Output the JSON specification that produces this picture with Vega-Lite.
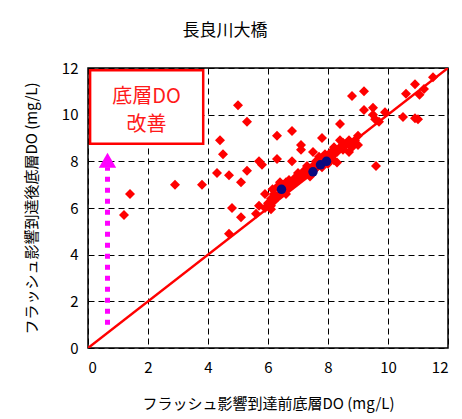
{
  "$schema": "https://vega.github.io/schema/vega-lite/v6.json",
  "width": 360,
  "height": 280,
  "autosize": "none",
  "padding": {"left": 88, "top": 68, "right": 14, "bottom": 71},
  "config": {
    "font": "Noto Sans CJK JP",
    "view": {"stroke": "black", "strokeWidth": 1.5},
    "axis": {
      "grid": true,
      "gridColor": "black",
      "gridDash": [6, 4],
      "gridWidth": 1,
      "gridOpacity": 1,
      "domain": false,
      "ticks": false,
      "labelFont": "Noto Sans CJK JP",
      "labelFontSize": 15,
      "labelColor": "black",
      "titleFont": "Noto Sans CJK JP",
      "titleFontSize": 15,
      "titleFontWeight": "normal",
      "titleColor": "black"
    }
  },
  "title": {
    "text": "長良川大橋",
    "fontSize": 17,
    "fontWeight": "normal",
    "font": "Noto Sans CJK JP",
    "color": "black",
    "anchor": "middle",
    "dx": -43,
    "offset": 21
  },
  "datasets": {
    "red": [
      {"x": 1.2, "y": 5.7}, {"x": 1.4, "y": 6.6}, {"x": 2.9, "y": 7.0}, {"x": 3.8, "y": 7.0},
      {"x": 4.3, "y": 7.5}, {"x": 4.7, "y": 7.4}, {"x": 5.1, "y": 7.1}, {"x": 5.3, "y": 7.6},
      {"x": 5.7, "y": 8.0}, {"x": 5.8, "y": 7.85}, {"x": 4.4, "y": 8.9}, {"x": 4.5, "y": 8.3},
      {"x": 5.0, "y": 10.4}, {"x": 5.3, "y": 9.7}, {"x": 5.9, "y": 6.6}, {"x": 4.8, "y": 6.0},
      {"x": 5.1, "y": 5.6}, {"x": 5.6, "y": 5.75}, {"x": 5.7, "y": 6.1}, {"x": 4.7, "y": 4.9},
      {"x": 6.3, "y": 9.1}, {"x": 6.8, "y": 9.3}, {"x": 6.3, "y": 8.1}, {"x": 6.8, "y": 8.0},
      {"x": 7.1, "y": 8.7}, {"x": 7.1, "y": 8.5}, {"x": 7.5, "y": 8.4}, {"x": 7.8, "y": 9.0},
      {"x": 8.4, "y": 9.6}, {"x": 8.4, "y": 8.9}, {"x": 8.8, "y": 10.8}, {"x": 9.2, "y": 11.0},
      {"x": 9.2, "y": 10.2}, {"x": 9.5, "y": 10.3}, {"x": 9.5, "y": 10.0}, {"x": 9.57, "y": 9.8},
      {"x": 9.7, "y": 9.7}, {"x": 9.9, "y": 10.1}, {"x": 10.5, "y": 9.9}, {"x": 10.9, "y": 9.85},
      {"x": 11.0, "y": 9.8}, {"x": 10.6, "y": 10.9}, {"x": 10.9, "y": 11.3}, {"x": 11.2, "y": 11.1},
      {"x": 11.05, "y": 10.85}, {"x": 11.5, "y": 11.6}, {"x": 9.6, "y": 7.8}, {"x": 9.0, "y": 9.1},
      {"x": 8.9, "y": 8.9}, {"x": 8.8, "y": 8.6}, {"x": 9.0, "y": 8.7}, {"x": 8.7, "y": 8.4},
      {"x": 5.9, "y": 6.0}, {"x": 6.0, "y": 6.2}, {"x": 6.1, "y": 6.1}, {"x": 6.1, "y": 6.4},
      {"x": 6.2, "y": 6.3}, {"x": 6.2, "y": 6.6}, {"x": 6.3, "y": 6.5}, {"x": 6.3, "y": 6.9},
      {"x": 6.4, "y": 6.6}, {"x": 6.5, "y": 6.7}, {"x": 6.5, "y": 7.0}, {"x": 6.6, "y": 6.8},
      {"x": 6.6, "y": 7.1}, {"x": 6.7, "y": 6.9}, {"x": 6.7, "y": 7.2}, {"x": 6.8, "y": 7.0},
      {"x": 6.9, "y": 7.1}, {"x": 6.9, "y": 7.3}, {"x": 7.0, "y": 7.2}, {"x": 7.0, "y": 7.5},
      {"x": 7.1, "y": 7.3}, {"x": 7.2, "y": 7.4}, {"x": 7.2, "y": 7.6}, {"x": 7.3, "y": 7.5},
      {"x": 7.3, "y": 7.8}, {"x": 7.4, "y": 7.6}, {"x": 7.5, "y": 7.8}, {"x": 7.6, "y": 7.7},
      {"x": 7.6, "y": 8.0}, {"x": 7.7, "y": 7.9}, {"x": 7.7, "y": 8.2}, {"x": 7.8, "y": 8.0},
      {"x": 7.9, "y": 8.1}, {"x": 7.9, "y": 8.3}, {"x": 8.0, "y": 8.2}, {"x": 8.0, "y": 7.9},
      {"x": 8.1, "y": 8.4}, {"x": 8.1, "y": 8.1}, {"x": 8.2, "y": 8.3}, {"x": 8.2, "y": 8.6},
      {"x": 8.3, "y": 8.4}, {"x": 8.3, "y": 7.95}, {"x": 8.4, "y": 8.6}, {"x": 8.5, "y": 8.5},
      {"x": 8.5, "y": 8.8}, {"x": 8.6, "y": 8.7}, {"x": 8.7, "y": 8.9}, {"x": 8.8, "y": 8.75},
      {"x": 6.1, "y": 5.95}, {"x": 6.6, "y": 6.6}, {"x": 6.15, "y": 6.8}, {"x": 6.4, "y": 7.1},
      {"x": 7.4, "y": 7.35}, {"x": 7.8, "y": 7.75}, {"x": 8.2, "y": 8.05}
    ],
    "blue": [
      {"x": 6.45, "y": 6.8}, {"x": 7.5, "y": 7.55}, {"x": 7.75, "y": 7.85}, {"x": 7.95, "y": 8.0}
    ],
    "diag": [{"x": 0, "y": 0}, {"x": 12, "y": 12}],
    "arrow": [{"x": 0.65, "y": 1.0, "y2": 7.75}],
    "head": [{"x": 0.65, "y": 8.05}],
    "box": [{"x": 0.07, "x2": 3.84, "y": 8.75, "y2": 11.9}],
    "label": [{"x": 1.95, "y": 10.77, "t": "底層DO"}, {"x": 1.95, "y": 9.57, "t": "改善"}]
  },
  "layer": [
    {
      "data": {"name": "diag"},
      "mark": {"type": "line", "color": "#FF0000", "strokeWidth": 2.5, "clip": true},
      "encoding": {
        "x": {"field": "x", "type": "quantitative", "scale": {"domain": [0, 12], "nice": false}, "axis": {"values": [0, 2, 4, 6, 8, 10, 12], "title": "フラッシュ影響到達前底層DO (mg/L)", "labelPadding": 12, "titlePadding": 21}},
        "y": {"field": "y", "type": "quantitative", "scale": {"domain": [0, 12], "nice": false}, "axis": {"values": [0, 2, 4, 6, 8, 10, 12], "title": "フラッシュ影響到達後底層DO (mg/L)", "labelPadding": 10, "titlePadding": 22}}
      }
    },
    {
      "data": {"name": "red"},
      "mark": {"type": "point", "shape": "diamond", "filled": true, "color": "#FF0000", "size": 100, "opacity": 1},
      "encoding": {
        "x": {"field": "x", "type": "quantitative"},
        "y": {"field": "y", "type": "quantitative"}
      }
    },
    {
      "data": {"name": "blue"},
      "mark": {"type": "circle", "color": "#0A0A80", "size": 90, "opacity": 1},
      "encoding": {
        "x": {"field": "x", "type": "quantitative"},
        "y": {"field": "y", "type": "quantitative"}
      }
    },
    {
      "data": {"name": "arrow"},
      "mark": {"type": "rule", "color": "#FF00FF", "strokeWidth": 5, "strokeDash": [5, 6], "strokeCap": "butt"},
      "encoding": {
        "x": {"field": "x", "type": "quantitative"},
        "y": {"field": "y", "type": "quantitative"},
        "y2": {"field": "y2"}
      }
    },
    {
      "data": {"name": "head"},
      "mark": {"type": "point", "shape": "triangle-up", "filled": true, "color": "#FF00FF", "size": 300, "opacity": 1},
      "encoding": {
        "x": {"field": "x", "type": "quantitative"},
        "y": {"field": "y", "type": "quantitative"}
      }
    },
    {
      "data": {"name": "box"},
      "mark": {"type": "rect", "fill": "white", "stroke": "#FF0000", "strokeWidth": 2.5},
      "encoding": {
        "x": {"field": "x", "type": "quantitative"},
        "x2": {"field": "x2"},
        "y": {"field": "y", "type": "quantitative"},
        "y2": {"field": "y2"}
      }
    },
    {
      "data": {"name": "label"},
      "mark": {"type": "text", "color": "#FF1A1A", "fontSize": 20, "font": "Noto Sans CJK JP", "align": "center", "baseline": "middle"},
      "encoding": {
        "x": {"field": "x", "type": "quantitative"},
        "y": {"field": "y", "type": "quantitative"},
        "text": {"field": "t"}
      }
    }
  ]
}
